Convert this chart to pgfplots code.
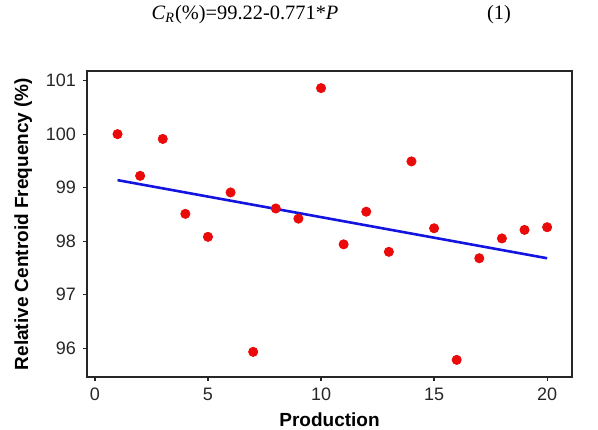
\documentclass[border=0pt]{standalone}
\usepackage{fontspec}
\setmainfont{Liberation Serif}
\setsansfont{Liberation Sans}
\usepackage{pgfplots}
\pgfplotsset{compat=1.18}
\definecolor{ptred}{RGB}{235,10,10}
\definecolor{fitblue}{RGB}{20,20,225}

\begin{document}
\begin{tikzpicture}
\useasboundingbox (-43.5pt,-26pt) rectangle (255.5pt,188.5pt);
\begin{axis}[
  at={(0,0)}, anchor=south west,
  scale only axis, width=242.5pt, height=153pt,
  xmin=-0.35, xmax=21.1, ymin=95.46, ymax=101.18,
  xtick={0,5,10,15,20}, ytick={96,97,98,99,100,101},
  tick align=outside, major tick length=2pt,
  xtick pos=bottom, ytick pos=left,
  axis line style={black!85, line width=0.9pt},
  tick style={black!85, line width=0.6pt},
  /pgf/number format/assume math mode=true,
  ticklabel style={font=\sffamily\fontsize{9}{10}\selectfont, text=black!85},
  xlabel={Production},
  ylabel={Relative Centroid Frequency (\%)},
  label style={font=\sffamily\bfseries\fontsize{9.5}{11}\selectfont},
  xlabel style={yshift=1pt},
  ylabel style={yshift=0pt},
]
% fitted line C_R = 99.22 - 0.0771 P
\addplot[fitblue, line width=1.3pt] coordinates {(1,99.14) (20,97.68)};
\addplot[only marks, mark=*, mark size=2.3pt, ptred, mark options={draw=ptred, fill=ptred}] coordinates {
  (1,100.00) (2,99.22) (3,99.91) (4,98.51) (5,98.08)
  (6,98.91) (7,95.93) (8,98.61) (9,98.42) (10,100.86)
  (11,97.94) (12,98.55) (13,97.80) (14,99.49) (15,98.24)
  (16,95.78) (17,97.68) (18,98.05) (19,98.21) (20,98.26)
};
\end{axis}
\node[font=\fontsize{10.2}{12}\selectfont] at (79pt,181pt)
  {\textit{C}\textsubscript{\textit{R}}(\%)=99.22-0.771*\textit{P}};
\node[font=\fontsize{10.2}{12}\selectfont] at (206pt,181pt) {(1)};
\end{tikzpicture}
\end{document}
